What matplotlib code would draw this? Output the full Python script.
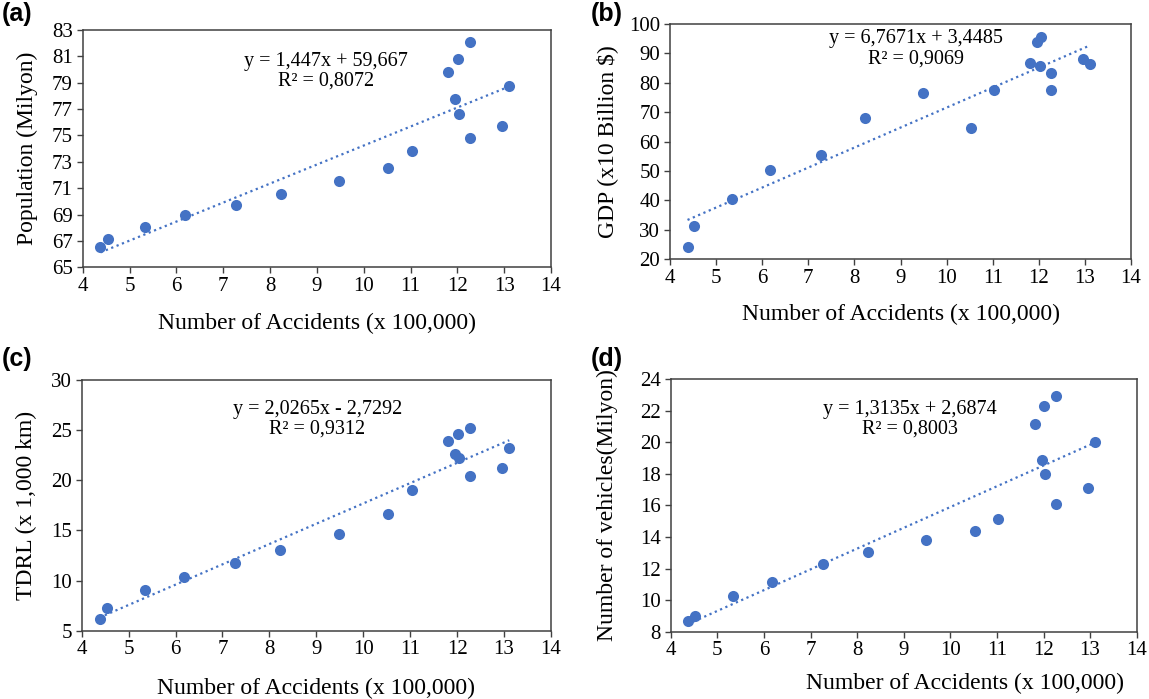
import numpy as np
import matplotlib
matplotlib.use("Agg")
import matplotlib.pyplot as plt

# Number of accidents (x 100,000), one value per year
accidents = [4.38, 4.53, 5.34, 6.18, 7.27, 8.23, 9.48, 10.52, 11.03,
             12.27, 12.96, 12.04, 11.96, 13.11, 11.81, 12.02, 12.27]
population = [66.54, 67.17, 68.05, 68.98, 69.76, 70.59, 71.55, 72.55, 73.79,
              74.79, 75.70, 76.66, 77.76, 78.75, 79.83, 80.81, 82.07]
gdp = [24.1, 31.2, 40.5, 50.3, 55.5, 68.0, 76.6, 64.8, 77.4,
       83.5, 88.0, 95.7, 94.0, 86.3, 86.7, 85.6, 77.4]
tdrl = [6.17, 7.27, 9.03, 10.37, 11.77, 13.07, 14.63, 16.63, 19.0,
        20.43, 21.27, 22.23, 22.67, 23.17, 23.9, 24.63, 25.23]
vehicles = [8.65, 8.97, 10.26, 11.17, 12.28, 13.02, 13.78, 14.40, 15.13,
            16.11, 17.08, 17.98, 18.89, 20.03, 21.17, 22.29, 22.90]

panel_tags = ["(a)", "(b)", "(c)", "(d)"]
y_labels = ["Population (Milyon)", "GDP (x10 Billion $)", "TDRL (x 1,000 km)",
            "Number of vehicles(Milyon)"]
x_label = "Number of Accidents (x 100,000)"
equations = ["y = 1,447x + 59,667\nR² = 0,8072",
             "y = 6,7671x + 3,4485\nR² = 0,9069",
             "y = 2,0265x - 2,7292\nR² = 0,9312",
             "y = 1,3135x + 2,6874\nR² = 0,8003"]
x_ticks = list(range(4, 15))
y_ticks = [list(range(65, 84, 2)), list(range(20, 101, 10)),
           list(range(5, 31, 5)), list(range(8, 25, 2))]
eq_pos = [(9.19, 79.85), (9.33, 91.6), (9.02, 26.05), (9.14, 21.47)]

W, H = 1149, 699
# axes boxes in pixels: left, top, right, bottom
boxes = [(82.7, 30, 551, 267.3), (670, 24, 1131, 259.3),
         (81.7, 380, 551, 630.7), (670.7, 379, 1136.7, 631.7)]
tag_pos = [(2, 2), (591, 2), (2, 347), (591, 347)]
ylabel_pad = [10, 8, 10, 16]
xlabel_coords = [(0.5, -0.19), (0.5, -0.19), (0.5, -0.187), (0.631, -0.163)]

blue = "#4472C4"
serif = ["Liberation Serif", "DejaVu Serif"]

fig = plt.figure(figsize=(W / 100, H / 100), dpi=100)
series = [population, gdp, tdrl, vehicles]

for i, ys in enumerate(series):
    l, t, r, b = boxes[i]
    ax = fig.add_axes([l / W, (H - b) / H, (r - l) / W, (b - t) / H])
    x = np.array(accidents)
    y = np.array(ys)
    k, c = np.polyfit(x, y, 1)
    xl = np.array([x.min(), x.max()])
    ax.plot(xl, k * xl + c, linestyle=(0, (1, 1.6)), color=blue, lw=1.6, zorder=2)
    ax.scatter(x, y, s=64, color=blue, zorder=3, linewidths=0)
    ax.set_xlim(4, 14)
    ax.set_ylim(y_ticks[i][0], y_ticks[i][-1])
    ax.set_xticks(x_ticks)
    ax.set_yticks(y_ticks[i])
    for lab in ax.get_xticklabels() + ax.get_yticklabels():
        lab.set_fontfamily(serif)
        lab.set_fontsize(15)
    ax.tick_params(direction="out", length=4, width=1.0, color="#404040", pad=3)
    for sp in ax.spines.values():
        sp.set_color("#404040")
        sp.set_linewidth(1.1)
    ax.set_xlabel(x_label, fontfamily=serif, fontsize=17)
    ax.xaxis.set_label_coords(*xlabel_coords[i])
    ax.set_ylabel(y_labels[i], fontfamily=serif, fontsize=17, labelpad=ylabel_pad[i])
    ax.text(eq_pos[i][0], eq_pos[i][1], equations[i], ha="center", va="center",
            fontfamily=serif, fontsize=14.5, linespacing=1.05, multialignment="center")
    fig.text(tag_pos[i][0] / W, 1 - tag_pos[i][1] / H, panel_tags[i],
             ha="left", va="top", fontfamily=["Liberation Sans", "DejaVu Sans"],
             fontweight="bold", fontsize=18)

fig.savefig("out.png", dpi=100)
